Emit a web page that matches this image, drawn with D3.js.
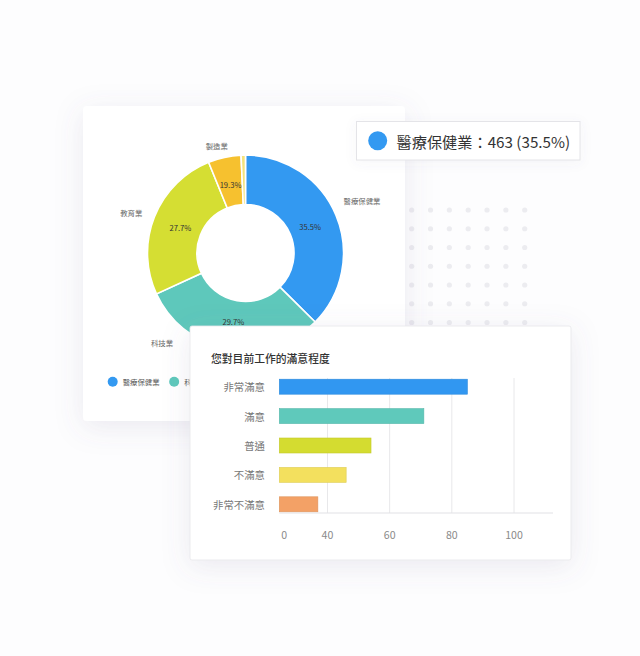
<!DOCTYPE html>
<html>
<head>
<meta charset="utf-8">
<script src="https://cdn.jsdelivr.net/npm/d3@7"></script>
<style>
  html, body { margin: 0; padding: 0; background: #fdfdfe; }
  svg { display: block; font-family: "Noto Sans CJK TC", "Noto Sans", sans-serif; }
</style>
</head>
<body>
<svg id="svg" width="640" height="656"></svg>
<script>
// ************************************************************************************************** //
// Data

var industries = ['醫療保健業', '科技業', '教育業', '製造業', '其他'];
var industryCounts = [463, 380, 318, 67, 9];
var industryPctLabels = ['35.5%', '29.7%', '27.7%', '19.3%'];
var industryColors = ['#3399f1', '#5ec8bb', '#d5de33', '#f6c12f', '#f4e27c'];

var tooltipText = '醫療保健業：463 (35.5%)';

var satisfactionTitle = '您對目前工作的滿意程度';
var satisfactionLevels = ['非常滿意', '滿意', '普通', '不滿意', '非常不滿意'];
var satisfactionValues = [85, 71, 54, 46, 32];
var satisfactionColors = ['#3197f1', '#5fc9bb', '#d4dc30', '#f3e05e', '#f3a166'];
var satisfactionTicks = [0, 40, 60, 80, 100];

// ************************************************************************************************** //
// Setup

var svg = d3.select('#svg');
var defs = svg.append('defs');

var shadow = defs.append('filter').attr('id', 'card-shadow')
  .attr('x', '-30%').attr('y', '-30%').attr('width', '160%').attr('height', '160%');
shadow.append('feDropShadow')
  .attr('dx', 0).attr('dy', 6).attr('stdDeviation', 14)
  .attr('flood-color', '#6a5f8c').attr('flood-opacity', 0.13);

var softShadow = defs.append('filter').attr('id', 'soft-shadow')
  .attr('x', '-30%').attr('y', '-60%').attr('width', '160%').attr('height', '220%');
softShadow.append('feDropShadow')
  .attr('dx', 0).attr('dy', 2).attr('stdDeviation', 6)
  .attr('flood-color', '#6a5f8c').attr('flood-opacity', 0.06);

// ****************************************
// Dot grid behind the cards

var dotCols = d3.range(9), dotRows = d3.range(8);
var dotX = d3.scaleLinear().domain([0, 8]).range([374, 524.7]);
var dotY = d3.scaleLinear().domain([0, 7]).range([210, 341.25]);
var dots = svg.append('g');
dotRows.forEach(r => {
  dotCols.forEach(c => {
    dots.append('circle')
      .attr('cx', dotX(c)).attr('cy', dotY(r)).attr('r', 2.6)
      .style('fill', '#ececf0');
  });
});

// ****************************************
// Donut card

svg.append('rect')
  .attr('x', 83).attr('y', 106).attr('width', 322).attr('height', 315).attr('rx', 4)
  .style('fill', '#ffffff').attr('filter', 'url(#card-shadow)');

var cx = 245.5, cy = 253, outerR = 98, innerR = 48.5;
var pie = d3.pie().sort(null).value(d => d.value);
var arcs = pie(industries.map((name, i) => ({ name: name, value: industryCounts[i], color: industryColors[i] })));
var arc = d3.arc().innerRadius(innerR).outerRadius(outerR);
var midArc = d3.arc().innerRadius(70).outerRadius(70);

var donut = svg.append('g').attr('transform', 'translate(' + cx + ',' + cy + ')');
donut.selectAll('path').data(arcs).enter().append('path')
  .attr('d', arc)
  .style('fill', d => d.data.color)
  .style('stroke', '#ffffff').style('stroke-width', 1.6);

// percentage labels at the centroid of each slice
donut.selectAll('text.pct').data(arcs.slice(0, industryPctLabels.length)).enter().append('text')
  .attr('class', 'pct')
  .attr('x', d => midArc.centroid(d)[0])
  .attr('y', d => midArc.centroid(d)[1])
  .attr('text-anchor', 'middle').attr('dominant-baseline', 'central')
  .style('font-size', '7.6px').style('fill', '#333')
  .text((d, i) => industryPctLabels[i]);

// outside category labels (two are nudged off their centroid, as in the picture)
var labelAngleOverride = { '醫療保健業': 62, '科技業': 219, '製造業': 345 };
donut.selectAll('text.name').data(arcs.slice(0, industryPctLabels.length)).enter().append('text')
  .attr('class', 'name')
  .each(function(d){
    var deg = labelAngleOverride[d.data.name] !== undefined ? labelAngleOverride[d.data.name] : (d.startAngle + d.endAngle) / 2 * 180 / Math.PI;
    var a = deg * Math.PI / 180;
    var r = d.data.name === '科技業' ? 115 : 111;
    var x = r * Math.sin(a), y = -r * Math.cos(a);
    var anchor = Math.sin(a) > 0.3 ? 'start' : (Math.sin(a) < -0.3 ? 'end' : 'middle');
    d3.select(this).attr('x', x).attr('y', y).attr('text-anchor', anchor);
  })
  .attr('dominant-baseline', 'central')
  .style('font-size', '7.4px').style('fill', '#666')
  .text(d => d.data.name);

// legend under the donut (items hidden behind the bar card are not drawn)
var legend = svg.append('g').attr('transform', 'translate(112.7,381.7)');
var lx = 0;
arcs.forEach(d => {
  if(112.7 + lx > 190) return;
  var item = legend.append('g').attr('transform', 'translate(' + lx + ',0)');
  item.append('circle').attr('r', 5).style('fill', d.data.color);
  var t = item.append('text').attr('x', 10).attr('dominant-baseline', 'central')
    .style('font-size', '7.4px').style('fill', '#555').text(d.data.name);
  lx += 10 + t.node().getComputedTextLength() + 14.5;
});

// ****************************************
// Tooltip

var tip = svg.append('g');
tip.append('rect')
  .attr('x', 356.5).attr('y', 121.5).attr('width', 223.5).attr('height', 38.5)
  .style('fill', '#ffffff').style('stroke', '#e4e4e8').style('stroke-width', 1)
  .attr('filter', 'url(#soft-shadow)');
tip.append('circle').attr('cx', 377.7).attr('cy', 140.8).attr('r', 9.5).style('fill', industryColors[0]);
tip.append('text').attr('x', 396.5).attr('y', 141).attr('dominant-baseline', 'central')
  .style('font-size', '15.2px').style('fill', '#333').text(tooltipText);

// ****************************************
// Bar card

svg.append('rect')
  .attr('x', 190).attr('y', 326).attr('width', 381).attr('height', 234).attr('rx', 2)
  .style('fill', '#ffffff').style('stroke', '#e6e6ea').style('stroke-width', 0.8)
  .attr('filter', 'url(#card-shadow)');

svg.append('text').attr('x', 211).attr('y', 357.5).attr('dominant-baseline', 'central')
  .style('font-size', '10.8px').style('font-weight', 500).style('fill', '#333')
  .text(satisfactionTitle);

var x = d3.scaleLinear().domain([0, 40, 100]).range([279.3, 327.5, 514]);
var y = d3.scaleBand().domain(satisfactionLevels).range([372, 519]).paddingInner(0.49).paddingOuter(0.245);

var bars = svg.append('g');

// gridlines
bars.selectAll('line.grid').data(satisfactionTicks.filter(t => t > 0)).enter().append('line')
  .attr('class', 'grid')
  .attr('x1', d => x(d)).attr('x2', d => x(d)).attr('y1', 378).attr('y2', 513)
  .style('stroke', '#e8e8ea').style('stroke-width', 1);

bars.append('line').attr('x1', 279.3).attr('x2', 553).attr('y1', 513).attr('y2', 513)
  .style('stroke', '#e2e2e6').style('stroke-width', 1.2);

bars.selectAll('rect.bar').data(satisfactionValues).enter().append('rect')
  .attr('class', 'bar')
  .attr('x', x(0)).attr('y', (d, i) => y(satisfactionLevels[i]))
  .attr('width', d => x(d) - x(0)).attr('height', y.bandwidth())
  .style('fill', (d, i) => satisfactionColors[i])
  .style('stroke', (d, i) => d3.color(satisfactionColors[i]).darker(0.25))
  .style('stroke-width', 0.6);

bars.selectAll('text.cat').data(satisfactionLevels).enter().append('text')
  .attr('class', 'cat')
  .attr('x', 265).attr('y', d => y(d) + y.bandwidth() / 2)
  .attr('text-anchor', 'end').attr('dominant-baseline', 'central')
  .style('font-size', '10.4px').style('fill', '#777')
  .text(d => d);

bars.selectAll('text.tick').data(satisfactionTicks).enter().append('text')
  .attr('class', 'tick')
  .attr('x', d => d === 0 ? x(d) + 5 : x(d)).attr('y', 534)
  .attr('text-anchor', 'middle').attr('dominant-baseline', 'central')
  .style('font-size', '10.6px').style('fill', '#8a8a8a')
  .text(d => d);
</script>
</body>
</html>
